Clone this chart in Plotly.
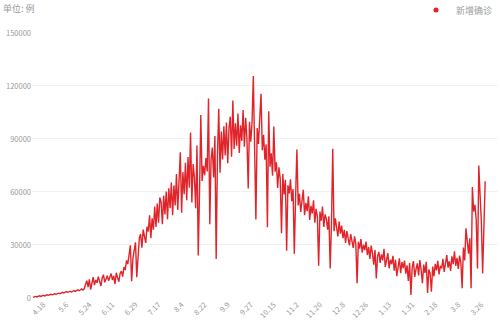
import pandas as pd
import plotly.graph_objects as go

start_date = "2020-04-10"
new_cases = [
    400, 700, 900, 600, 1000, 1200, 900, 1300, 1500, 1200,
    1600, 1800, 1500, 1900, 2100, 1800, 2200, 2400, 2100, 2500,
    2700, 2400, 2900, 3200, 2800, 3300, 3600, 3200, 3500, 3800,
    3400, 3900, 4200, 3700, 4300, 4600, 4100, 4800, 5100, 4500,
    5200, 7600, 9800, 6100, 10500, 4800, 9200, 11800, 7300, 10200,
    8600, 12100, 9400, 6800, 11300, 13200, 8900, 10700, 12600, 9800,
    11400, 13800, 10200, 12500, 7900, 14300, 11600, 9200, 13900, 15200,
    12100, 17500, 15800, 21300, 19200, 24600, 29800, 9500, 22400, 27100,
    31500, 11800, 25600, 33900, 36200, 28400, 38700, 34100, 31200, 40300,
    37600, 46800, 33900, 45100, 38600, 51800, 40200, 53400, 42600, 56900,
    54200, 41800, 57900, 47300, 60200, 44600, 62100, 50800, 65400, 46800,
    63700, 52400, 70200, 49800, 67100, 82500, 48300, 71200, 58700, 76500,
    55300, 79800, 62400, 93600, 54100, 75800, 68200, 50800, 86300, 24000,
    60000, 103500, 66200, 74800, 69500, 79200, 71600, 112800, 41700, 78400,
    85100, 68200, 91600, 22000, 80300, 107000, 70900, 94200, 78400, 97100,
    80700, 99300, 76200, 95800, 102600, 79900, 111700, 84300, 98900, 86200,
    104400, 82100, 97700, 88800, 106300, 85600, 101900, 90200, 62000, 99700,
    88400, 99300, 125600, 92800, 44400, 96200, 87100, 101500, 115600, 83600,
    92400, 78200, 86900, 40000, 105600, 74300, 81800, 69200, 97000, 71500,
    76800, 62300, 73900, 67400, 36700, 70200, 58600, 66900, 26700, 63800,
    59200, 67100, 54800, 61600, 25000, 57300, 84000, 52400, 58900, 48700,
    56300, 61200, 46900, 53800, 49100, 57600, 44200, 52100, 47800, 55300,
    42600, 50400, 46100, 18300, 48900, 43700, 51800, 40200, 47300, 44900,
    38600, 46200, 16700, 41900, 84400, 37800, 45100, 40600, 34900, 43200,
    36400, 40900, 33800, 38600, 31200, 37900, 34200, 29800, 36100, 32700,
    28400, 34900, 30600, 8300, 31800, 27900, 33400, 25600, 30200, 27100,
    31900, 24300, 28800, 22100, 29600, 25400, 18900, 27200, 11000, 23600,
    26100, 19800, 24700, 21300, 27800, 17600, 22900, 25400, 16800, 21700,
    19200, 23800, 15400, 21600, 12300, 18700, 22400, 14100, 20300, 16900,
    21200, 13800, 18500, 9600, 19800, 1700, 17300, 20900, 11900, 16400,
    19600, 12800, 21400, 15700, 8400, 18900, 14200, 20500, 2800, 16100,
    13900, 3500, 17800, 12200, 19300, 15600, 21000, 13400, 18200, 16700,
    22100, 14800, 19900, 24300, 17200, 20800, 15300, 23600, 19100, 26400,
    18200, 22700, 16500, 24000, 20100, 5500, 28600, 21300, 39400, 30200,
    25100, 33800, 5500, 62800, 48900, 52700, 44100, 16700, 75000, 58600,
    43200, 13900, 38800, 66000,
]
dates = pd.date_range(start_date, periods=len(new_cases), freq="D")

tick_dates = ["2020-04-18", "2020-05-06", "2020-05-24", "2020-06-11", "2020-06-29",
              "2020-07-17", "2020-08-04", "2020-08-22", "2020-09-09", "2020-09-27",
              "2020-10-15", "2020-11-02", "2020-11-20", "2020-12-08", "2020-12-26",
              "2021-01-13", "2021-01-31", "2021-02-18", "2021-03-08", "2021-03-26"]
tick_labels = ["4.18", "5.6", "5.24", "6.11", "6.29", "7.17", "8.4", "8.22", "9.9", "9.27",
               "10.15", "11.2", "11.20", "12.8", "12.26", "1.13", "1.31", "2.18", "3.8", "3.26"]
y_ticks = [0, 30000, 60000, 90000, 120000, 150000]
series_name = "新增确诊"
unit_label = "单位: 例"

RED = "#e0242a"
GRAY = "#9a9a9a"

fig = go.Figure()
fig.add_trace(go.Scatter(x=dates, y=new_cases, mode="lines",
                         line=dict(color=RED, width=1.4), showlegend=False,
                         name=series_name))
fig.add_trace(go.Scatter(x=[None], y=[None], mode="markers", name=series_name,
                         marker=dict(color=RED, size=5), showlegend=True))

px_per_day = 1.281
plot_w = 466
x0 = pd.Timestamp(start_date) - pd.Timedelta(days=1 / px_per_day)
x1 = x0 + pd.Timedelta(days=plot_w / px_per_day)

fig.update_layout(
    width=500, height=329,
    margin=dict(l=32, r=2, t=28, b=31),
    paper_bgcolor="white", plot_bgcolor="white",
    font=dict(family="Noto Sans CJK SC, Noto Sans, sans-serif", color=GRAY),
    title=dict(text=unit_label, xref="container", x=0.006, xanchor="left",
               yref="container", y=1 - 9 / 329, yanchor="middle",
               font=dict(size=9, color=GRAY)),
    legend=dict(orientation="h", x=1.0, xanchor="right", y=1 - 10 / 329,
                yref="container", yanchor="middle",
                font=dict(size=9, color=GRAY), bgcolor="rgba(0,0,0,0)",
                itemwidth=30),
    xaxis=dict(type="date", range=[x0, x1], tickvals=tick_dates, ticktext=tick_labels,
               tickangle=-45, tickfont=dict(size=7.5, color=GRAY),
               showgrid=False, showline=False, zeroline=False, ticks=""),
    yaxis=dict(range=[0, 150000], tickvals=y_ticks, ticktext=[str(v) for v in y_ticks],
               tickfont=dict(size=7.5, color=GRAY), gridcolor="#f0f0f0", gridwidth=1,
               zeroline=False, showline=False, ticks=""),
)

fig.write_html("out.html")
